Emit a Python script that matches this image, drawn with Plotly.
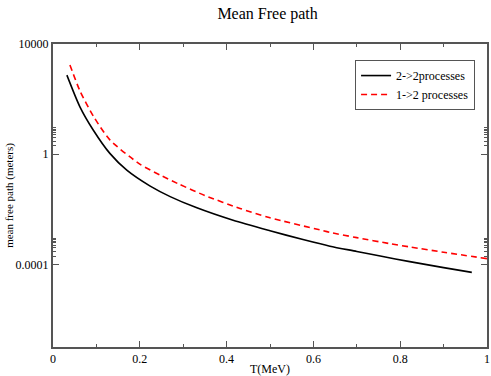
import plotly.graph_objects as go

# Data
t_22 = [0.032, 0.062, 0.093, 0.131, 0.170, 0.224, 0.270, 0.330, 0.415, 0.500,
        0.576, 0.638, 0.700, 0.754, 0.822, 0.900, 0.965]
mfp_22 = [741, 52.5, 7.41, 1.07, 0.263, 0.0692, 0.0288, 0.0115, 0.00398, 0.00166,
          0.000794, 0.000457, 0.000295, 0.0002, 0.000126, 0.0000759, 0.0000513]

t_12 = [0.039, 0.062, 0.093, 0.131, 0.200, 0.247, 0.288, 0.350, 0.431, 0.498,
        0.615, 0.638, 0.700, 0.777, 0.823, 0.900, 1.000]
mfp_12 = [1738, 200, 24.0, 3.31, 0.437, 0.174, 0.0851, 0.0316, 0.0107, 0.00501,
          0.00178, 0.00145, 0.000933, 0.000562, 0.000427, 0.000275, 0.000162]

x_tickvals = [0, 0.2, 0.4, 0.6, 0.8, 1.0]
x_ticktext = ["0", "0.2", "0.4", "0.6", "0.8", "1"]
y_tickvals = [1e4, 1, 1e-4]
y_ticktext = ["10000", "1", "0.0001"]
y_minorvals = [k * 1.0 for k in range(2, 10)] + [k * 1e-4 for k in range(2, 10)]

FONT = "Liberation Serif, Times New Roman, serif"
AX = "#555555"

fig = go.Figure()
fig.add_trace(go.Scatter(x=t_22, y=mfp_22, mode="lines", name="2->2processes",
                         line=dict(color="black", width=1.6, shape="spline", smoothing=0.7)))
fig.add_trace(go.Scatter(x=t_12, y=mfp_12, mode="lines", name="1->2 processes",
                         line=dict(color="#ff0000", width=1.6, dash="6px,4px",
                                   shape="spline", smoothing=0.7)))

fig.update_layout(
    width=491, height=376,
    margin=dict(l=53, r=4, t=44, b=29, autoexpand=False),
    paper_bgcolor="white", plot_bgcolor="white",
    font=dict(family=FONT, size=12, color="black"),
    title=dict(text="Mean Free path", x=0.545, xanchor="center", y=0.98, yanchor="top",
               font=dict(family=FONT, size=16, color="black")),
    showlegend=True,
    legend=dict(x=0.696, y=0.947, xanchor="left", yanchor="top",
                bordercolor=AX, borderwidth=1, bgcolor="white",
                font=dict(family=FONT, size=12), tracegroupgap=0,
                itemwidth=30),
    xaxis=dict(range=[0, 1], tickvals=x_tickvals, ticktext=x_ticktext,
               automargin=False,
               ticks="inside", ticklen=6, tickcolor=AX, tickwidth=1,
               showline=True, linecolor=AX, linewidth=2, mirror="allticks",
               showgrid=False, zeroline=False,
               minor=dict(tickvals=[0.1, 0.3, 0.5, 0.7, 0.9], ticks="inside",
                          ticklen=3, tickcolor=AX, showgrid=False),
               title=dict(text="T(MeV)", font=dict(family=FONT, size=12), standoff=0),
               tickfont=dict(family=FONT, size=12)),
    yaxis=dict(type="log", range=[-7, 4], tickvals=y_tickvals, ticktext=y_ticktext,
               automargin=False,
               ticks="inside", ticklen=6, tickcolor=AX, tickwidth=1,
               showline=True, linecolor=AX, linewidth=2, mirror="allticks",
               showgrid=False, zeroline=False,
               minor=dict(tickvals=y_minorvals, ticks="inside", ticklen=3,
                          tickcolor=AX, showgrid=False),
               title=dict(text="mean free path (meters)", font=dict(family=FONT, size=11),
                          standoff=0),
               tickfont=dict(family=FONT, size=12)),
)

fig.write_html("out.html", config={"displayModeBar": False},
               post_script="document.body.style.margin='0';document.body.style.overflow='hidden';")
